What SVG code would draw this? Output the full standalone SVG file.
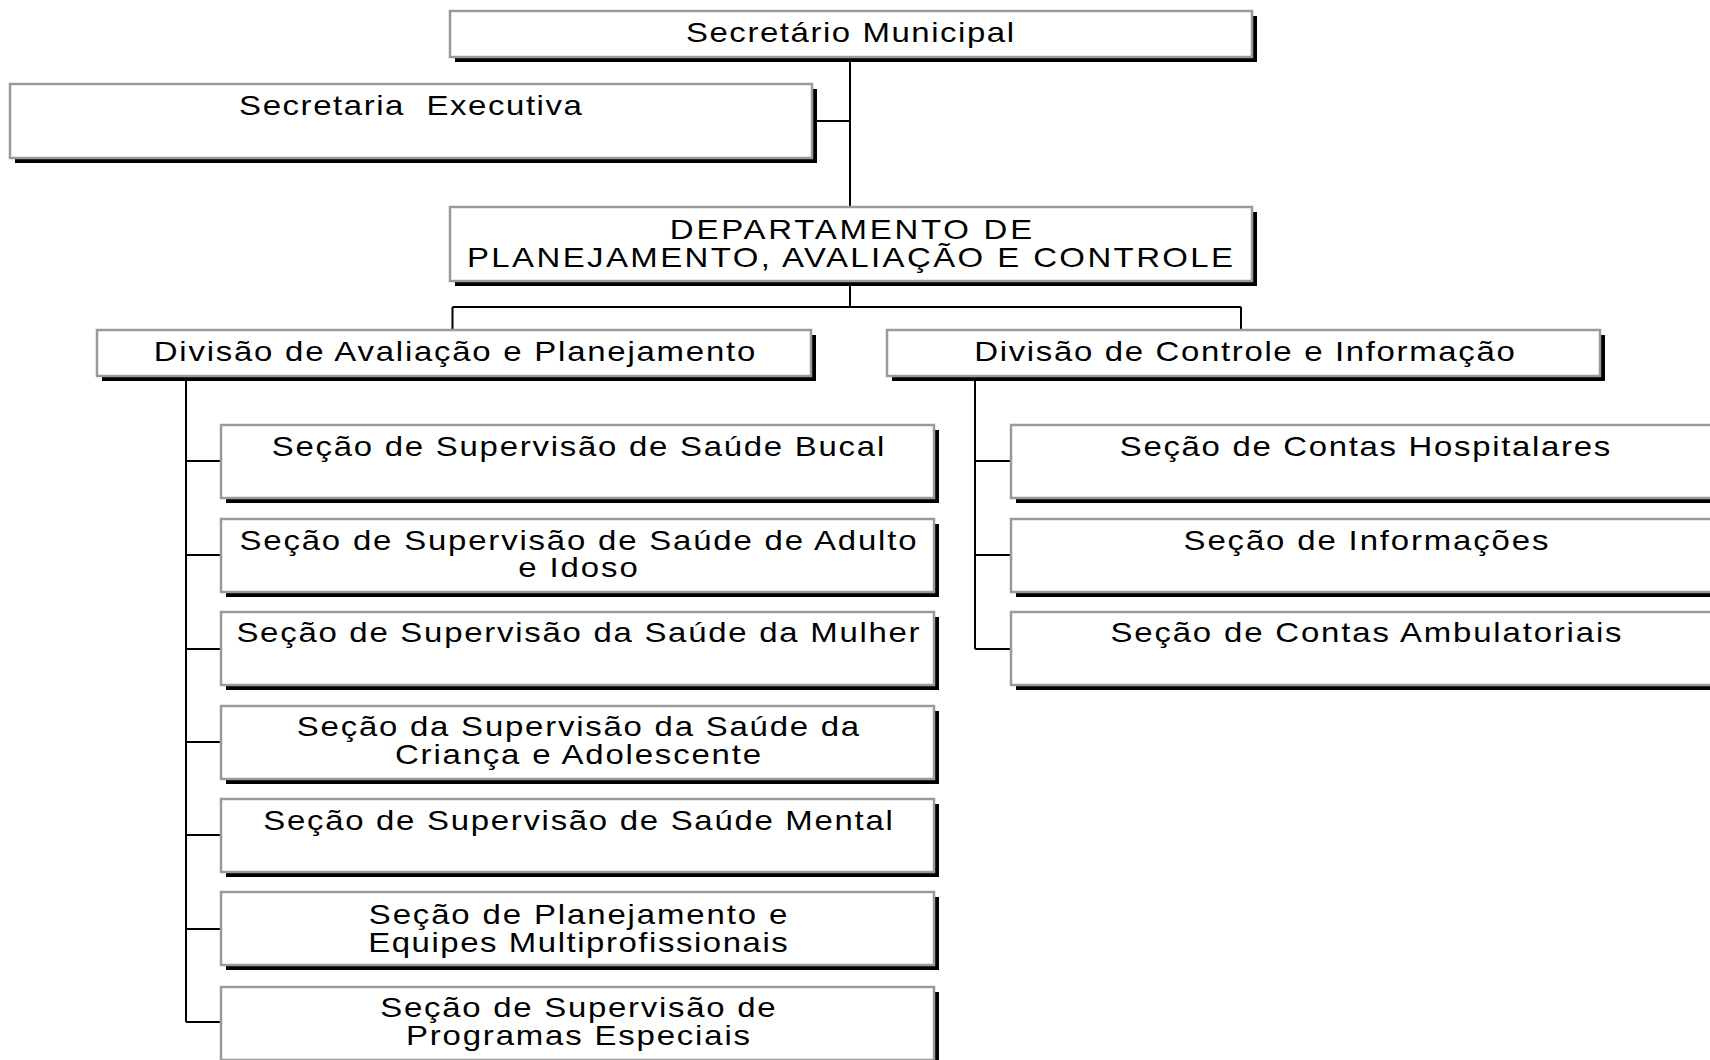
<svg xmlns="http://www.w3.org/2000/svg" width="1710" height="1060" viewBox="0 0 1710 1060">
<style>
.sh{fill:#000}
.bx{fill:#fff;stroke:#9a9a9a;stroke-width:2.5}
.t{font-family:"Liberation Sans",Arial,sans-serif;font-size:27px;fill:#000;text-anchor:middle}
.c{fill:none;stroke:#000;stroke-width:2}
</style>
<rect width="1710" height="1060" fill="#fff"/>
<g id="connectors">
<path class="c" d="M850 57V207M812 121H850M850 281V307M452.5 307H1241M452.5 307V330M1241 307V330"/>
<path class="c" d="M186 376V1022M186 461H221M186 555H221M186 649H221M186 742H221M186 835H221M186 929H221M186 1022H221"/>
<path class="c" d="M975 376V649M975 461H1011M975 555H1011M975 649H1011"/>
</g>
<g id="n-secretario">
<rect class="sh" x="455" y="16" width="802" height="46"/>
<rect class="bx" x="450" y="11" width="802" height="46"/>
<text class="t" transform="translate(850,42) scale(1.22,1)" textLength="269" lengthAdjust="spacing">Secretário Municipal</text>
</g>
<g id="n-secexec">
<rect class="sh" x="15" y="89" width="802" height="74"/>
<rect class="bx" x="10" y="84" width="802" height="74"/>
<text class="t" transform="translate(410.5,115) scale(1.22,1)" textLength="281" lengthAdjust="spacing" xml:space="preserve">Secretaria  Executiva</text>
</g>
<g id="n-depto">
<rect class="sh" x="455" y="212" width="802" height="74"/>
<rect class="bx" x="450" y="207" width="802" height="74"/>
<text class="t" transform="translate(851,239) scale(1.22,1)" textLength="297" lengthAdjust="spacing">DEPARTAMENTO DE</text>
<text class="t" transform="translate(850,267) scale(1.22,1)" textLength="628" lengthAdjust="spacing">PLANEJAMENTO, AVALIAÇÃO E CONTROLE</text>
</g>
<g id="n-div-aval">
<rect class="sh" x="102" y="335" width="714" height="46"/>
<rect class="bx" x="97" y="330" width="714" height="46"/>
<text class="t" transform="translate(454.5,361) scale(1.22,1)" textLength="493" lengthAdjust="spacing">Divisão de Avaliação e Planejamento</text>
</g>
<g id="n-div-ctrl">
<rect class="sh" x="892" y="335" width="713" height="46"/>
<rect class="bx" x="887" y="330" width="713" height="46"/>
<text class="t" transform="translate(1244.5,361) scale(1.22,1)" textLength="443" lengthAdjust="spacing">Divisão de Controle e Informação</text>
</g>
<g id="n-bucal">
<rect class="sh" x="226" y="430" width="713" height="73"/>
<rect class="bx" x="221" y="425" width="713" height="73"/>
<text class="t" transform="translate(578,456) scale(1.22,1)" textLength="502" lengthAdjust="spacing">Seção de Supervisão de Saúde Bucal</text>
</g>
<g id="n-adulto">
<rect class="sh" x="226" y="524" width="713" height="73"/>
<rect class="bx" x="221" y="519" width="713" height="73"/>
<text class="t" transform="translate(578,550) scale(1.22,1)" textLength="555" lengthAdjust="spacing">Seção de Supervisão de Saúde de Adulto</text>
<text class="t" transform="translate(578,577) scale(1.22,1)" textLength="98" lengthAdjust="spacing">e Idoso</text>
</g>
<g id="n-mulher">
<rect class="sh" x="226" y="617" width="713" height="73"/>
<rect class="bx" x="221" y="612" width="713" height="73"/>
<text class="t" transform="translate(578,642) scale(1.22,1)" textLength="560" lengthAdjust="spacing">Seção de Supervisão da Saúde da Mulher</text>
</g>
<g id="n-crianca">
<rect class="sh" x="226" y="711" width="713" height="73"/>
<rect class="bx" x="221" y="706" width="713" height="73"/>
<text class="t" transform="translate(578,736) scale(1.22,1)" textLength="461" lengthAdjust="spacing">Seção da Supervisão da Saúde da</text>
<text class="t" transform="translate(578,764) scale(1.22,1)" textLength="300" lengthAdjust="spacing">Criança e Adolescente</text>
</g>
<g id="n-mental">
<rect class="sh" x="226" y="804" width="713" height="73"/>
<rect class="bx" x="221" y="799" width="713" height="73"/>
<text class="t" transform="translate(578,830) scale(1.22,1)" textLength="516" lengthAdjust="spacing">Seção de Supervisão de Saúde Mental</text>
</g>
<g id="n-planejamento">
<rect class="sh" x="226" y="897" width="713" height="73"/>
<rect class="bx" x="221" y="892" width="713" height="73"/>
<text class="t" transform="translate(578,924) scale(1.22,1)" textLength="343" lengthAdjust="spacing">Seção de Planejamento e</text>
<text class="t" transform="translate(578,952) scale(1.22,1)" textLength="344" lengthAdjust="spacing">Equipes Multiprofissionais</text>
</g>
<g id="n-programas">
<rect class="sh" x="226" y="992" width="713" height="73"/>
<rect class="bx" x="221" y="987" width="713" height="73"/>
<text class="t" transform="translate(578,1017) scale(1.22,1)" textLength="324" lengthAdjust="spacing">Seção de Supervisão de</text>
<text class="t" transform="translate(578,1045) scale(1.22,1)" textLength="282" lengthAdjust="spacing">Programas Especiais</text>
</g>
<g id="n-hospitalares">
<rect class="sh" x="1016" y="430" width="713" height="73"/>
<rect class="bx" x="1011" y="425" width="713" height="73"/>
<text class="t" transform="translate(1365,456) scale(1.22,1)" textLength="402" lengthAdjust="spacing">Seção de Contas Hospitalares</text>
</g>
<g id="n-informacoes">
<rect class="sh" x="1016" y="524" width="713" height="73"/>
<rect class="bx" x="1011" y="519" width="713" height="73"/>
<text class="t" transform="translate(1366,550) scale(1.22,1)" textLength="299" lengthAdjust="spacing">Seção de Informações</text>
</g>
<g id="n-ambulatoriais">
<rect class="sh" x="1016" y="617" width="713" height="73"/>
<rect class="bx" x="1011" y="612" width="713" height="73"/>
<text class="t" transform="translate(1366,642) scale(1.22,1)" textLength="419" lengthAdjust="spacing">Seção de Contas Ambulatoriais</text>
</g>
</svg>
